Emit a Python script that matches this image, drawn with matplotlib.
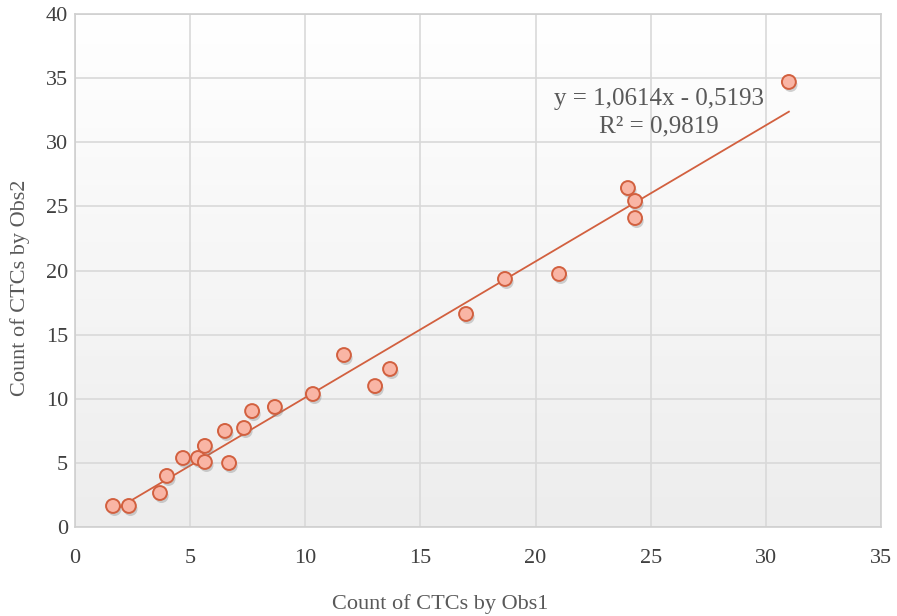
import numpy as np
import matplotlib
matplotlib.use('Agg')
import matplotlib.pyplot as plt
import matplotlib.patheffects as pe
from matplotlib.colors import LinearSegmentedColormap

# --- data ---
obs1 = [1.65, 2.34, 3.69, 3.99, 4.69, 5.34, 5.64, 5.64, 6.51, 6.69, 7.34, 7.69,
        8.68, 10.33, 11.68, 13.03, 13.68, 16.98, 18.67, 21.02, 24.01, 24.32, 24.32, 31.0]
obs2 = [1.64, 1.64, 2.65, 3.98, 5.38, 5.38, 5.07, 6.32, 7.49, 4.99, 7.72, 9.04,
        9.36, 10.37, 13.41, 10.99, 12.32, 16.61, 19.34, 19.73, 26.43, 25.42, 24.09, 34.7]
slope = 1.0614
intercept = -0.5193
r2 = 0.9819
x_ticks = [0, 5, 10, 15, 20, 25, 30, 35]
y_ticks = [0, 5, 10, 15, 20, 25, 30, 35, 40]

SERIF = ['Liberation Serif', 'DejaVu Serif']
plt.rcParams['font.family'] = SERIF

fig = plt.figure(figsize=(8.97, 6.16), dpi=100)
ax = fig.add_axes([75 / 897, 89 / 616, 806 / 897, 513 / 616])

# plot area gradient (white at top, light grey at bottom)
cmap = LinearSegmentedColormap.from_list('bg', ['#ededed', '#ffffff'])
grad = np.linspace(0, 1, 256).reshape(-1, 1)
ax.imshow(grad, extent=[0, 35, 0, 40], origin='lower', aspect='auto', cmap=cmap, zorder=0)

ax.set_xlim(0, 35)
ax.set_ylim(0, 40)
ax.set_xticks(x_ticks)
ax.set_yticks(y_ticks)
ax.grid(True, color='#d9d9d9', linewidth=1.2, zorder=1)
ax.set_axisbelow(True)
for s in ax.spines.values():
    s.set_color('#cfcfcf')
    s.set_linewidth(1.2)

ax.tick_params(axis='both', length=0, labelcolor='#404040', labelsize=16)
ax.tick_params(axis='x', pad=16)
ax.tick_params(axis='y', pad=5)

# trend line over the data range
xs = np.array([min(obs1), max(obs1)])
ax.plot(xs, slope * xs + intercept, color='#d2603f', linewidth=1.3, zorder=3)

# points with a soft shadow
ax.scatter(obs1, obs2, s=100, facecolor='#f9b5a5', edgecolor='#d2603f', linewidth=1.4, zorder=4,
           path_effects=[pe.SimplePatchShadow(offset=(1.2, -2.2), shadow_rgbFace='#808080', alpha=0.35),
                         pe.Normal()])

sign = '-' if intercept < 0 else '+'
ax.text(25.36, 33.37, f'y = {slope:.4f}x {sign} {abs(intercept):.4f}'.replace('.', ','),
        ha='center', va='center', fontsize=18, color='#595959', zorder=5)
ax.text(25.36, 31.2, f'R² = {r2:.4f}'.replace('.', ','),
        ha='center', va='center', fontsize=18, color='#595959', zorder=5)

ax.set_xlabel('Count of CTCs by Obs1', fontsize=16, color='#595959')
ax.set_ylabel('Count of CTCs by Obs2', fontsize=16, color='#595959')
ax.xaxis.set_label_coords(0.453, -0.131)
ax.yaxis.set_label_coords(-0.056, 0.466)

fig.savefig('out.png', dpi=100)
